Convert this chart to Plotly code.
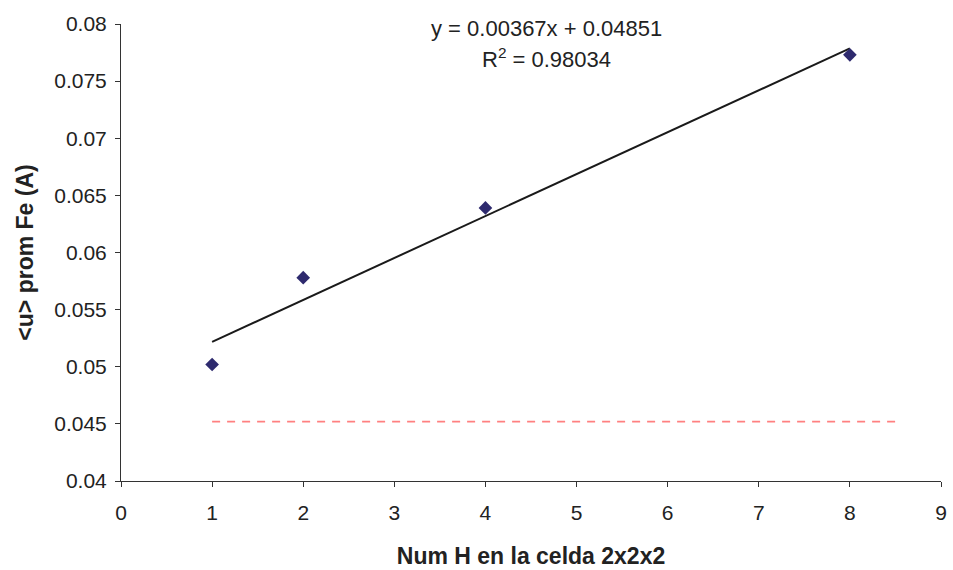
import plotly.graph_objects as go
import numpy as np

# Data
num_h = [1, 2, 4, 8]
u_prom_fe = [0.0502, 0.0578, 0.0639, 0.0773]
ref_level = 0.0452
ref_x = [1, 8.5]
slope = 0.00367
intercept = 0.04851
r2 = 0.98034
x_ticks = list(range(0, 10))
y_ticks = [0.04, 0.045, 0.05, 0.055, 0.06, 0.065, 0.07, 0.075, 0.08]
y_tick_text = ["0.04", "0.045", "0.05", "0.055", "0.06", "0.065", "0.07", "0.075", "0.08"]

trend_x = np.array([min(num_h), max(num_h)])
trend_y = slope * trend_x + intercept

FAM = "Liberation Sans, Arial, sans-serif"
tick_font = dict(family=FAM, size=21, color="#222")
title_font = dict(family=FAM, size=23, color="#222")
eq_font = dict(family=FAM, size=22, color="#222")

fig = go.Figure()
fig.add_trace(go.Scatter(x=ref_x, y=[ref_level, ref_level], mode="lines",
                         line=dict(color="#ff8080", width=1.7, dash="8px,7px"),
                         showlegend=False, hoverinfo="skip"))
fig.add_trace(go.Scatter(x=trend_x, y=trend_y, mode="lines",
                         line=dict(color="#1a1a1a", width=2),
                         showlegend=False))
fig.add_trace(go.Scatter(x=num_h, y=u_prom_fe, mode="markers",
                         marker=dict(symbol="diamond", size=10.5, color="#2e2a6e"),
                         showlegend=False))

fig.add_annotation(x=4.67, xref="x", y=1, yref="paper", yanchor="middle", yshift=-4,
                   text=f"y = {slope:.5f}x + {intercept:.5f}", showarrow=False, font=eq_font)
fig.add_annotation(x=4.67, xref="x", y=1, yref="paper", yanchor="middle", yshift=-34,
                   text=f"R<sup>2</sup> = {r2:.5f}", showarrow=False, font=eq_font)

fig.update_layout(
    width=953, height=570,
    margin=dict(l=121, r=6, t=24, b=86),
    paper_bgcolor="white", plot_bgcolor="white",
    font=tick_font,
    xaxis=dict(range=[0, 9], tickvals=x_ticks, showgrid=False, zeroline=False,
               showline=True, linecolor="#333", linewidth=1, ticks="outside",
               ticklen=5, tickcolor="#333", tickfont=tick_font, ticklabelstandoff=8,
               title=dict(text="<b>Num H en la celda 2x2x2</b>", font=title_font, standoff=24)),
    yaxis=dict(range=[0.04, 0.08], tickvals=y_ticks, ticktext=y_tick_text, showgrid=False, zeroline=False,
               showline=True, linecolor="#333", linewidth=1, ticks="outside",
               ticklen=5, tickcolor="#333", tickfont=tick_font, ticklabelstandoff=4,
               title=dict(text="<b>&lt;u&gt; prom Fe (A)</b>", font=title_font, standoff=14)),
)
fig.write_html("out.html",
               config={"displayModeBar": False},
               post_script="document.body.style.margin='0px';document.body.style.overflow='hidden';")
